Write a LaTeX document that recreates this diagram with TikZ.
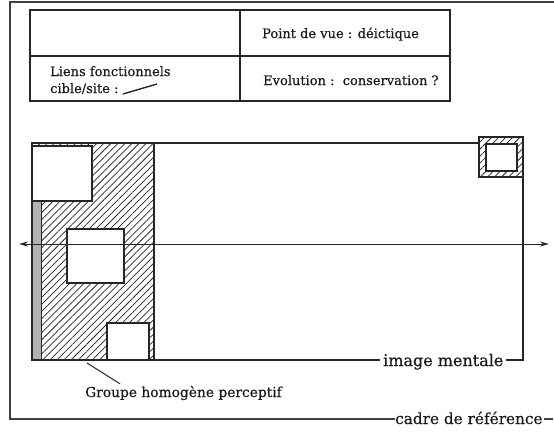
\documentclass[tikz,border=0pt]{standalone}
\usepackage{fontspec}
\setmainfont{DejaVu Serif}[FakeBold=0.5]
\usetikzlibrary{patterns.meta,arrows.meta}
\tikzset{
  ln/.style={line width=1.1pt,draw=black!85},
  hatch/.style={pattern={Lines[angle=45,distance=5pt,line width=0.75pt]},pattern color=black!85},
  txt/.style={inner sep=0pt,text=black!90},
  tabtxt/.style={txt,font=\fontsize{13}{15}\selectfont},
  bigtxt/.style={txt,font=\fontsize{16}{18}\selectfont},
  axtip/.tip={Stealth[length=9pt,width=5pt]},
}
\begin{document}
\begin{tikzpicture}[x=1pt,y=-1pt]
\useasboundingbox (0,0) rectangle (554,431);
% texts
\node[tabtxt,anchor=base west] (pv) at (262,38) {Point de vue : déictique};
\node[tabtxt,anchor=base west] (ev) at (263,85) {Evolution :\ \ conservation ?};
\node[tabtxt,anchor=base west] (li) at (50,76) {Liens fonctionnels};
\node[tabtxt,anchor=base west] (cs) at (50,93) {cible/site :};
\node[bigtxt,anchor=base west] (im) at (383,366) {image mentale};
\node[txt,font=\fontsize{15.3}{18}\selectfont,anchor=base west] (cadre) at (395,424) {cadre de référence};
\node[txt,font=\fontsize{13.8}{16}\selectfont,anchor=base west] (grp) at (85,397) {Groupe homogène perceptif};
% coordinates
\coordinate (bl) at (10,419);
\coordinate (imb) at (32,360);
\coordinate (lk1) at (123,94);
\coordinate (lk2) at (157,84);
\coordinate (al) at (19,244);
\coordinate (ar) at (549,244);
\coordinate (gtip) at (87,363);
% outer frame
\draw[ln,draw=black!75] (554,2) -- (10,2) -- (bl) -- (cadre.west |- bl);
\draw[ln,draw=black!75] ([xshift=1pt]cadre.east |- bl) -- (553,419);
% table
\draw[ln] (30,10) rectangle (450,101);
\draw[ln] (30,56) -- (450,56);
\draw[ln] (240,10) -- (240,101);
\draw[ln,line width=1.4pt] (lk1) -- (lk2);
% hatched group
\fill[black!30] (32,201) rectangle (41,360);
\fill[hatch] (41,143) rectangle (154,360);
\fill[hatch] (32,143) rectangle (41,201);
\draw[ln,line width=0.7pt] (41,201) -- (41,360);
\draw[ln] (154,143) -- (154,360);
\filldraw[ln,fill=white] (32,146) rectangle (92,201);
\filldraw[ln,fill=white] (67,229) rectangle (124,283);
\filldraw[ln,fill=white] (107,323) rectangle (149,360);
% small square top right
\fill[hatch] (479,137) rectangle (523,177);
\draw[ln] (479,137) rectangle (523,177);
\filldraw[ln,fill=white] (486,144) rectangle (517,171);
% image mentale frame
\draw[ln] (479,143) -- (32,143) -- (imb) -- ([xshift=-3pt]im.west |- imb);
\draw[ln] ([xshift=2pt]im.east |- imb) -- (523,360) -- (523,177);
% axis arrow
\draw[ln,line width=1pt,axtip-axtip] (al) -- (ar);
% pointer
\draw[ln,line width=1pt] ([xshift=35pt,yshift=2pt]grp.north west) -- (gtip);
\end{tikzpicture}
\end{document}
